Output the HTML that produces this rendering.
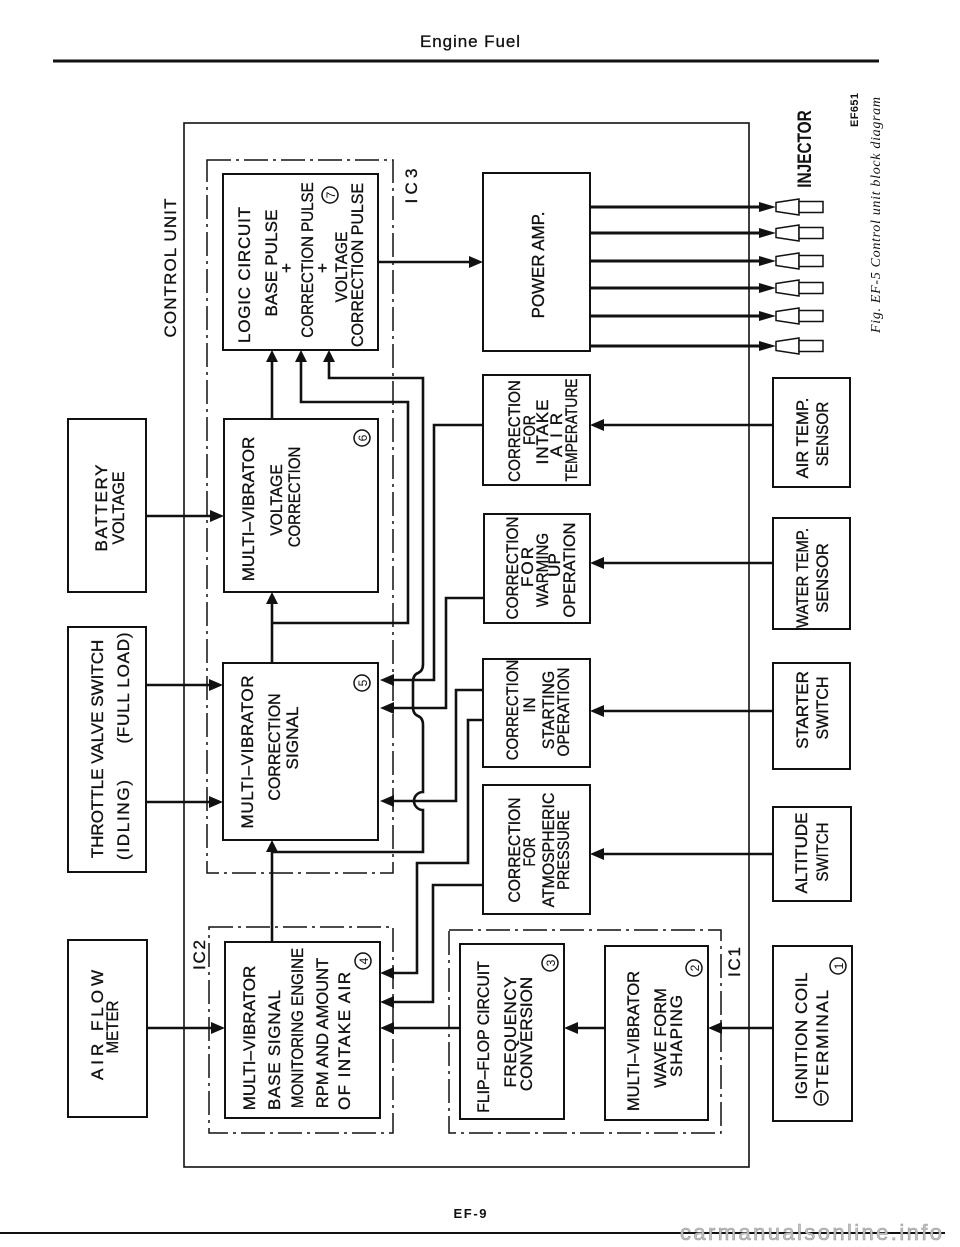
<!DOCTYPE html>
<html><head><meta charset="utf-8"><style>
html,body{margin:0;padding:0;background:#fff;}
svg{display:block;}
text{font-family:"Liberation Sans",sans-serif;fill:#111;}
.t text,.t{font-size:17px;stroke:#111;stroke-width:0.35;}
.b{fill:none;stroke:#111;stroke-width:2;}
.w{fill:none;stroke:#111;stroke-width:2.6;stroke-linejoin:miter;}
.d{fill:none;stroke:#111;stroke-width:1.5;stroke-dasharray:24 5 3 5;}
.a{fill:#111;stroke:none;}
</style></head><body>
<svg width="960" height="1247" viewBox="0 0 960 1247" xmlns="http://www.w3.org/2000/svg">
<rect x="0" y="0" width="960" height="1247" fill="#fff"/>

<!-- header -->
<text x="470" y="47" text-anchor="middle" font-size="17" textLength="100" lengthAdjust="spacing" stroke="#111" stroke-width="0.3">Engine Fuel</text>
<line x1="53" y1="61" x2="879" y2="61" stroke="#111" stroke-width="3"/>

<!-- control unit -->
<rect x="184" y="123" width="565" height="1044" fill="none" stroke="#111" stroke-width="1.6"/>
<text transform="translate(176,268) rotate(-90)" text-anchor="middle" font-size="17" stroke="#111" stroke-width="0.3" textLength="139" lengthAdjust="spacing">CONTROL UNIT</text>

<!-- IC boxes -->
<rect x="207" y="160" width="186" height="713" class="d"/>
<rect x="209" y="927" width="184" height="206" class="d"/>
<rect x="449" y="930" width="272" height="203" class="d"/>
<g class="t">
<text transform="translate(417,186) rotate(-90)" text-anchor="middle" textLength="35" lengthAdjust="spacing">IC3</text>
<text transform="translate(205,955) rotate(-90)" text-anchor="middle" textLength="30" lengthAdjust="spacing">IC2</text>
<text transform="translate(740,962) rotate(-90)" text-anchor="middle" textLength="30" lengthAdjust="spacing">IC1</text>
</g>

<!-- Logic circuit -->
<rect x="223" y="174" width="155" height="176" class="b"/>
<g class="t">
<text transform="translate(250,275) rotate(-90)" text-anchor="middle" textLength="136" lengthAdjust="spacing">LOGIC CIRCUIT</text>
<text transform="translate(277,263) rotate(-90)" text-anchor="middle" textLength="107" lengthAdjust="spacing">BASE PULSE</text>
<text transform="translate(292,268) rotate(-90)" text-anchor="middle">+</text>
<text transform="translate(313,260) rotate(-90) scale(0.89,1)" text-anchor="middle">CORRECTION PULSE</text>
<text transform="translate(328,268) rotate(-90)" text-anchor="middle">+</text>
<text transform="translate(347,267) rotate(-90) scale(0.91,1)" text-anchor="middle">VOLTAGE</text>
<text transform="translate(363,265) rotate(-90) scale(0.94,1)" text-anchor="middle">CORRECTION PULSE</text>
</g>
<circle cx="330" cy="195" r="8" fill="none" stroke="#111" stroke-width="1.5"/>
<text transform="translate(335,195) rotate(-90)" text-anchor="middle" font-size="12">7</text>

<!-- MV 6 -->
<rect x="224" y="419" width="154" height="173" class="b"/>
<g class="t">
<text transform="translate(254,509) rotate(-90)" text-anchor="middle">MULTI–VIBRATOR</text>
<text transform="translate(282,500) rotate(-90) scale(0.92,1)" text-anchor="middle">VOLTAGE</text>
<text transform="translate(300,497) rotate(-90) scale(0.88,1)" text-anchor="middle">CORRECTION</text>
</g>
<circle cx="362" cy="438" r="8" fill="none" stroke="#111" stroke-width="1.5"/>
<text transform="translate(367,438) rotate(-90)" text-anchor="middle" font-size="12">6</text>

<!-- MV 5 -->
<rect x="223" y="663" width="155" height="177" class="b"/>
<g class="t">
<text transform="translate(253,752) rotate(-90)" text-anchor="middle" textLength="153" lengthAdjust="spacing">MULTI–VIBRATOR</text>
<text transform="translate(280,747) rotate(-90) scale(0.94,1)" text-anchor="middle">CORRECTION</text>
<text transform="translate(298,738) rotate(-90)" text-anchor="middle" textLength="63" lengthAdjust="spacing">SIGNAL</text>
</g>
<circle cx="362" cy="683" r="8" fill="none" stroke="#111" stroke-width="1.5"/>
<text transform="translate(367,683) rotate(-90)" text-anchor="middle" font-size="12">5</text>

<!-- MV 4 -->
<rect x="225" y="942" width="155" height="176" class="b"/>
<g class="t">
<text transform="translate(255,1038) rotate(-90)" text-anchor="middle">MULTI–VIBRATOR</text>
<text transform="translate(280,1050) rotate(-90)" text-anchor="middle" textLength="120" lengthAdjust="spacing">BASE SIGNAL</text>
<text transform="translate(303,1028) rotate(-90) scale(0.89,1)" text-anchor="middle">MONITORING ENGINE</text>
<text transform="translate(328,1033) rotate(-90) scale(0.97,1)" text-anchor="middle">RPM AND AMOUNT</text>
<text transform="translate(350,1041) rotate(-90)" text-anchor="middle" textLength="138" lengthAdjust="spacing">OF INTAKE AIR</text>
</g>
<circle cx="363" cy="961" r="8" fill="none" stroke="#111" stroke-width="1.5"/>
<text transform="translate(368,961) rotate(-90)" text-anchor="middle" font-size="12">4</text>

<!-- Left external boxes -->
<rect x="68" y="419" width="78" height="173" class="b"/>
<g class="t">
<text transform="translate(107,508) rotate(-90)" text-anchor="middle" textLength="87" lengthAdjust="spacing">BATTERY</text>
<text transform="translate(124,508) rotate(-90) scale(0.94,1)" text-anchor="middle">VOLTAGE</text>
</g>
<rect x="68" y="627" width="78" height="245" class="b"/>
<g class="t">
<text transform="translate(103,749) rotate(-90)" text-anchor="middle">THROTTLE VALVE SWITCH</text>
<text transform="translate(129,820) rotate(-90)" text-anchor="middle" textLength="80" lengthAdjust="spacing">(IDLING)</text>
<text transform="translate(129,688) rotate(-90)" text-anchor="middle" textLength="111" lengthAdjust="spacing">(FULL LOAD)</text>
</g>
<rect x="68" y="940" width="79" height="177" class="b"/>
<g class="t">
<text transform="translate(103,1025) rotate(-90)" text-anchor="middle" textLength="110" lengthAdjust="spacing">AIR  FLOW</text>
<text transform="translate(118,1027) rotate(-90) scale(0.89,1)" text-anchor="middle">METER</text>
</g>

<!-- Power amp -->
<rect x="483" y="173" width="107" height="178" class="b"/>
<text transform="translate(544,265) rotate(-90) scale(0.94,1)" text-anchor="middle" font-size="18" stroke="#111" stroke-width="0.35">POWER AMP.</text>

<!-- Correction boxes -->
<rect x="483" y="375" width="107" height="110" class="b"/>
<g class="t">
<text transform="translate(520,431) rotate(-90) scale(0.89,1)" text-anchor="middle">CORRECTION</text>
<text transform="translate(535,430) rotate(-90) scale(0.83,1)" text-anchor="middle">FOR</text>
<text transform="translate(548,432) rotate(-90)" text-anchor="middle" textLength="65" lengthAdjust="spacing">INTAKE</text>
<text transform="translate(562,435) rotate(-90)" text-anchor="middle" textLength="44" lengthAdjust="spacing">AIR</text>
<text transform="translate(577,430) rotate(-90) scale(0.81,1)" text-anchor="middle">TEMPERATURE</text>
</g>
<rect x="484" y="514" width="106" height="109" class="b"/>
<g class="t">
<text transform="translate(518,568) rotate(-90) scale(0.9,1)" text-anchor="middle">CORRECTION</text>
<text transform="translate(533,567) rotate(-90)" text-anchor="middle" textLength="40" lengthAdjust="spacing">FOR</text>
<text transform="translate(548,570) rotate(-90) scale(0.89,1)" text-anchor="middle">WARMING</text>
<text transform="translate(560,565) rotate(-90)" text-anchor="middle">UP</text>
<text transform="translate(575,570) rotate(-90) scale(0.96,1)" text-anchor="middle">OPERATION</text>
</g>
<rect x="483" y="659" width="107" height="108" class="b"/>
<g class="t">
<text transform="translate(518,710) rotate(-90) scale(0.88,1)" text-anchor="middle">CORRECTION</text>
<text transform="translate(535,705) rotate(-90) scale(0.88,1)" text-anchor="middle">IN</text>
<text transform="translate(554,710) rotate(-90) scale(0.93,1)" text-anchor="middle">STARTING</text>
<text transform="translate(569,712) rotate(-90) scale(0.9,1)" text-anchor="middle">OPERATION</text>
</g>
<rect x="483" y="785" width="107" height="129" class="b"/>
<g class="t">
<text transform="translate(520,850) rotate(-90) scale(0.92,1)" text-anchor="middle">CORRECTION</text>
<text transform="translate(535,852) rotate(-90) scale(0.81,1)" text-anchor="middle">FOR</text>
<text transform="translate(554,850) rotate(-90) scale(0.93,1)" text-anchor="middle">ATMOSPHERIC</text>
<text transform="translate(569,850) rotate(-90) scale(0.85,1)" text-anchor="middle">PRESSURE</text>
</g>

<!-- IC1 boxes -->
<rect x="460" y="944" width="104" height="175" class="b"/>
<g class="t">
<text transform="translate(489,1037) rotate(-90) scale(0.93,1)" text-anchor="middle">FLIP–FLOP CIRCUIT</text>
<text transform="translate(516,1032) rotate(-90)" text-anchor="middle" textLength="111" lengthAdjust="spacing">FREQUENCY</text>
<text transform="translate(532,1034) rotate(-90)" text-anchor="middle">CONVERSION</text>
</g>
<circle cx="550" cy="963" r="8" fill="none" stroke="#111" stroke-width="1.5"/>
<text transform="translate(555,963) rotate(-90)" text-anchor="middle" font-size="12">3</text>

<rect x="605" y="946" width="103" height="174" class="b"/>
<g class="t">
<text transform="translate(639,1041) rotate(-90) scale(0.97,1)" text-anchor="middle">MULTI–VIBRATOR</text>
<text transform="translate(666,1038) rotate(-90) scale(0.97,1)" text-anchor="middle">WAVE  FORM</text>
<text transform="translate(682,1036) rotate(-90)" text-anchor="middle" textLength="82" lengthAdjust="spacing">SHAPING</text>
</g>
<circle cx="694" cy="968" r="8" fill="none" stroke="#111" stroke-width="1.5"/>
<text transform="translate(699,968) rotate(-90)" text-anchor="middle" font-size="12">2</text>

<!-- Right sensors -->
<rect x="773" y="378" width="77" height="109" class="b"/>
<g class="t">
<text transform="translate(808,438) rotate(-90) scale(0.98,1)" text-anchor="middle">AIR TEMP.</text>
<text transform="translate(828,434) rotate(-90) scale(0.9,1)" text-anchor="middle">SENSOR</text>
</g>
<rect x="773" y="518" width="77" height="111" class="b"/>
<g class="t">
<text transform="translate(808,578) rotate(-90) scale(0.88,1)" text-anchor="middle">WATER TEMP.</text>
<text transform="translate(828,578) rotate(-90) scale(0.97,1)" text-anchor="middle">SENSOR</text>
</g>
<rect x="773" y="663" width="77" height="106" class="b"/>
<g class="t">
<text transform="translate(808,710) rotate(-90)" text-anchor="middle">STARTER</text>
<text transform="translate(828,708) rotate(-90) scale(0.94,1)" text-anchor="middle">SWITCH</text>
</g>
<rect x="773" y="807" width="78" height="94" class="b"/>
<g class="t">
<text transform="translate(807,853) rotate(-90)" text-anchor="middle">ALTITUDE</text>
<text transform="translate(828,852) rotate(-90) scale(0.88,1)" text-anchor="middle">SWITCH</text>
</g>
<rect x="773" y="946" width="79" height="175" class="b"/>
<g class="t">
<text transform="translate(807,1036) rotate(-90)" text-anchor="middle" textLength="127" lengthAdjust="spacing">IGNITION COIL</text>
<text transform="translate(828,1039) rotate(-90)" text-anchor="middle" textLength="98" lengthAdjust="spacing">TERMINAL</text>
</g>
<circle cx="821" cy="1098" r="7" fill="none" stroke="#111" stroke-width="1.5"/>
<line x1="821" y1="1093" x2="821" y2="1103" stroke="#111" stroke-width="1.6"/>
<circle cx="838" cy="966" r="8" fill="none" stroke="#111" stroke-width="1.5"/>
<text transform="translate(843,966) rotate(-90)" text-anchor="middle" font-size="12">1</text>

<!-- Injector labels / caption -->
<text transform="translate(811,149) rotate(-90) scale(0.81,1)" text-anchor="middle" font-size="19" font-weight="bold">INJECTOR</text>
<text transform="translate(858,110) rotate(-90)" text-anchor="middle" font-size="11" font-weight="bold" textLength="34" lengthAdjust="spacing">EF651</text>
<text transform="translate(880,215) rotate(-90)" text-anchor="middle" font-size="14" font-style="italic" style="font-family:'Liberation Serif',serif" textLength="236" lengthAdjust="spacing">Fig. EF-5  Control unit block diagram</text>

<!-- wires -->
<g class="w">
<path d="M272 419 V358"/>
<path d="M301 358 V402 H408 V623 H272"/>
<path d="M329 358 V378 H423 V664 Q423 671 418 673 Q413 675 413 682 V707 Q413 714 418 716 Q423 718 423 725 V792 A9 9 0 0 0 423 810 V852 H272"/>
<path d="M272 663 V600"/>
<path d="M272 942 V848"/>
<path d="M378 262 H471"/>
<path d="M146 516 H212"/>
<path d="M146 685 H211"/>
<path d="M146 802 H211"/>
<path d="M147 1028 H213"/>
<path d="M483 425 H434 V680 H392"/>
<path d="M484 598 H446 V708 H392"/>
<path d="M483 690 H456 V801 H392"/>
<path d="M483 720 H468 V863 H417 V973 H392"/>
<path d="M483 885 H433 V1002 H392"/>
<path d="M460 1028 H392"/>
<path d="M605 1028 H577"/>
<path d="M773 1028 H720"/>
<path d="M773 425 H602"/>
<path d="M773 563 H602"/>
<path d="M773 711 H602"/>
<path d="M773 854 H602"/>
</g>
<g stroke="#111" stroke-width="3">
<line x1="590" y1="207" x2="762" y2="207"/>
<line x1="590" y1="233" x2="762" y2="233"/>
<line x1="590" y1="261" x2="762" y2="261"/>
<line x1="590" y1="288" x2="762" y2="288"/>
<line x1="590" y1="316" x2="762" y2="316"/>
<line x1="590" y1="346" x2="762" y2="346"/>
</g>

<!-- arrowheads -->
<g class="a">
<polygon points="272,350 266,362 278,362"/>
<polygon points="301,350 295,362 307,362"/>
<polygon points="329,350 323,362 335,362"/>
<polygon points="272,592 266,604 278,604"/>
<polygon points="272,840 266,852 278,852"/>
<polygon points="483,262 469,256 469,268"/>
<polygon points="224,516 210,510 210,522"/>
<polygon points="223,685 209,679 209,691"/>
<polygon points="223,802 209,796 209,808"/>
<polygon points="225,1028 211,1022 211,1034"/>
<polygon points="380,680 394,674 394,686"/>
<polygon points="380,708 394,702 394,714"/>
<polygon points="380,801 394,795 394,807"/>
<polygon points="380,973 394,967 394,979"/>
<polygon points="380,1002 394,996 394,1008"/>
<polygon points="380,1028 394,1022 394,1034"/>
<polygon points="564,1028 578,1022 578,1034"/>
<polygon points="708,1028 722,1022 722,1034"/>
<polygon points="590,425 604,419 604,431"/>
<polygon points="590,563 604,557 604,569"/>
<polygon points="590,711 604,705 604,717"/>
<polygon points="590,854 604,848 604,860"/>
<polygon points="776,207 759,202 759,212"/>
<polygon points="776,233 759,228 759,238"/>
<polygon points="776,261 759,256 759,266"/>
<polygon points="776,288 759,283 759,293"/>
<polygon points="776,316 759,311 759,321"/>
<polygon points="776,346 759,341 759,351"/>
</g>

<!-- injectors -->
<g fill="#fff" stroke="#111" stroke-width="1.5">
<polygon points="776,202.5 799,199 799,215 776,211.5"/><rect x="799" y="201.5" width="24" height="11"/>
<polygon points="776,228.5 799,225 799,241 776,237.5"/><rect x="799" y="227.5" width="24" height="11"/>
<polygon points="776,256.5 799,253 799,269 776,265.5"/><rect x="799" y="255.5" width="24" height="11"/>
<polygon points="776,283.5 799,280 799,296 776,292.5"/><rect x="799" y="282.5" width="24" height="11"/>
<polygon points="776,311.5 799,308 799,324 776,320.5"/><rect x="799" y="310.5" width="24" height="11"/>
<polygon points="776,341.5 799,338 799,354 776,350.5"/><rect x="799" y="340.5" width="24" height="11"/>
</g>

<!-- footer -->
<text x="470" y="1218" text-anchor="middle" font-size="13" font-weight="bold" textLength="33" lengthAdjust="spacing">EF-9</text>
<line x1="0" y1="1233" x2="945" y2="1233" stroke="#111" stroke-width="2"/>
<text x="680" y="1240" font-size="22" textLength="262" lengthAdjust="spacing" style="fill:#c4c4c4;stroke:#9a9a9a;stroke-width:0.6">carmanualsonline.info</text>
</svg>
</body></html>
